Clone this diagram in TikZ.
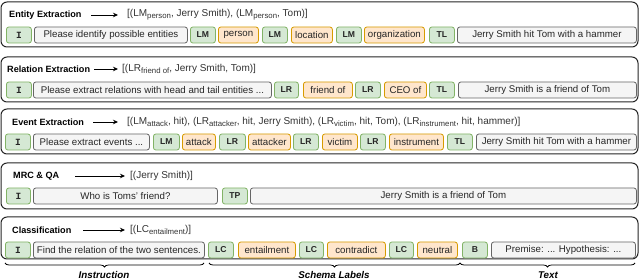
\documentclass[tikz,border=0pt]{standalone}
\usepackage{fontspec}
\setmainfont{Liberation Sans}
\setsansfont{Liberation Sans}
\setmonofont{Liberation Mono}
\usetikzlibrary{decorations.pathreplacing,arrows.meta}
\definecolor{gfill}{HTML}{D5E8D4}
\definecolor{gdraw}{HTML}{82B366}
\definecolor{ofill}{HTML}{FFE6CC}
\definecolor{odraw}{HTML}{D79B00}
\definecolor{tfill}{HTML}{F5F5F5}
\definecolor{tdraw}{HTML}{666666}
\newcommand\sbs[1]{\raisebox{-0.4ex}{\fontsize{7.8}{9}\selectfont #1}}
\begin{document}
\begin{tikzpicture}[x=1pt,y=-1pt,
 panel/.style={draw=black!85, line width=1pt, rounded corners=6pt, fill=white},
 bx/.style={anchor=west, minimum height=16pt, inner sep=0pt, rounded corners=2.5pt, line width=0.8pt, font=\fontsize{9.7}{11}\selectfont, text=black!85},
 gbox/.style={bx, fill=gfill, draw=gdraw, font=\fontsize{8.6}{10}\selectfont\bfseries},
 ibox/.style={gbox, font=\fontsize{9.5}{10}\selectfont\ttfamily\bfseries},
 obox/.style={bx, fill=ofill, draw=odraw},
 tbox/.style={bx, fill=tfill, draw=tdraw},
 ttl/.style={anchor=west, inner sep=0pt, font=\fontsize{9.1}{11}\selectfont\bfseries},
 outp/.style={anchor=west, inner sep=0pt, font=\fontsize{10}{11}\selectfont, text=black!80},
 arr/.style={-{Stealth[length=5pt,width=4.5pt]}, line width=0.8pt},
 brc/.style={decorate, decoration={brace, mirror, amplitude=4pt}, line width=0.8pt},
 blab/.style={inner sep=0pt, font=\fontsize{9.8}{11}\selectfont\bfseries\itshape}
]
\useasboundingbox (0,0) rectangle (640,280);
% panels
\draw[panel] (1,2) rectangle (638,47);
\draw[panel] (1,57) rectangle (638,102);
\draw[panel] (1,109) rectangle (638,154);
\draw[panel] (1,163) rectangle (638,209);
\draw[panel] (1,217) rectangle (638,259);

% ---------- Panel 1 ----------
\node[ttl] (t1) at (9,15) {Entity Extraction};
\node[outp] (o1) at (127,15) {[(LM\sbs{person}, Jerry Smith), (LM\sbs{person}, Tom)]};
\coordinate (a1s) at (91,15); \coordinate (a1e) at (118,15);
\draw[arr] (a1s) -- (a1e);
\node[ibox, minimum width=25pt] (p1i) at (6,35) {I};
\node[tbox, minimum width=153pt] (p1ins) at (34,35) {Please identify possible entities};
\node[gbox, minimum width=25pt] (p1lm1) at (190,35) {LM};
\node[obox, minimum width=40pt] (p1s1) at (218,35) {person};
\node[gbox, minimum width=25pt] (p1lm2) at (262,35) {LM};
\node[obox, minimum width=41pt] (p1s2) at (291,35) {location};
\node[gbox, minimum width=25pt] (p1lm3) at (336,35) {LM};
\node[obox, minimum width=60pt] (p1s3) at (364,35) {organization};
\node[gbox, minimum width=25pt] (p1tl) at (429,35) {TL};
\node[tbox, minimum width=179pt] (p1txt) at (457,35) {Jerry Smith hit Tom with a hammer};

% ---------- Panel 2 ----------
\node[ttl] (t2) at (7,69) {Relation Extraction};
\node[outp] (o2) at (122,69) {[(LR\sbs{friend of}, Jerry Smith, Tom)]};
\coordinate (a2s) at (94,69); \coordinate (a2e) at (118,69);
\draw[arr] (a2s) -- (a2e);
\node[ibox, minimum width=25pt] (p2i) at (6,90) {I};
\node[tbox, minimum width=238pt] (p2ins) at (33,90) {Please extract relations with head and tail entities ...};
\node[gbox, minimum width=24pt] (p2lr1) at (274,90) {LR};
\node[obox, minimum width=49pt] (p2s1) at (303,90) {friend of};
\node[gbox, minimum width=25pt] (p2lr2) at (355,90) {LR};
\node[obox, minimum width=42pt] (p2s2) at (384,90) {CEO of};
\node[gbox, minimum width=25pt] (p2tl) at (429,90) {TL};
\node[tbox, minimum width=178pt] (p2txt) at (458,90) {Jerry Smith is a friend of Tom};

% ---------- Panel 3 ----------
\node[ttl] (t3) at (12,122) {Event Extraction};
\node[outp] (o3) at (127,122) {[(LM\sbs{attack}, hit), (LR\sbs{attacker}, hit, Jerry Smith), (LR\sbs{victim}, hit, Tom), (LR\sbs{instrument}, hit, hammer)]};
\coordinate (a3s) at (93,122); \coordinate (a3e) at (118,122);
\draw[arr] (a3s) -- (a3e);
\node[ibox, minimum width=25pt] (p3i) at (5,142) {I};
\node[tbox, minimum width=116pt] (p3ins) at (33,142) {Please extract events ...};
\node[gbox, minimum width=26pt] (p3lm) at (153,142) {LM};
\node[obox, minimum width=33pt] (p3s1) at (182,142) {attack};
\node[gbox, minimum width=26pt] (p3lr1) at (219,142) {LR};
\node[obox, minimum width=42pt] (p3s2) at (248,142) {attacker};
\node[gbox, minimum width=25pt] (p3lr2) at (293,142) {LR};
\node[obox, minimum width=35pt] (p3s3) at (322,142) {victim};
\node[gbox, minimum width=25pt] (p3lr3) at (360,142) {LR};
\node[obox, minimum width=54pt] (p3s4) at (389,142) {instrument};
\node[gbox, minimum width=25pt] (p3tl) at (447,142) {TL};
\node[tbox, minimum width=160pt] (p3txt) at (476,142) {Jerry Smith hit Tom with a hammer};

% ---------- Panel 4 ----------
\node[ttl] (t4) at (13,176) {MRC \& QA};
\node[outp] (o4) at (130,176) {[(Jerry Smith)]};
\coordinate (a4s) at (75,176); \coordinate (a4e) at (125,176);
\draw[arr] (a4s) -- (a4e);
\node[ibox, minimum width=24pt] (p4i) at (6,196) {I};
\node[tbox, minimum width=184pt] (p4ins) at (33,196) {Who is Toms' friend?};
\node[gbox, minimum width=25pt] (p4tp) at (222,196) {TP};
\node[tbox, minimum width=386pt] (p4txt) at (250,196) {Jerry Smith is a friend of Tom};

% ---------- Panel 5 ----------
\node[ttl] (t5) at (12,230) {Classification};
\node[outp] (o5) at (130,230) {[(LC\sbs{entailment})]};
\coordinate (a5s) at (83,230); \coordinate (a5e) at (125,230);
\draw[arr] (a5s) -- (a5e);
\node[ibox, minimum width=25pt] (p5i) at (5,250) {I};
\node[tbox, minimum width=171pt] (p5ins) at (33,250) {Find the relation of the two sentences.};
\node[gbox, minimum width=25pt] (p5lc1) at (208,250) {LC};
\node[obox, minimum width=57pt] (p5s1) at (238,250) {entailment};
\node[gbox, minimum width=24pt] (p5lc2) at (299,250) {LC};
\node[obox, minimum width=58pt] (p5s2) at (327,250) {contradict};
\node[gbox, minimum width=24pt] (p5lc3) at (389,250) {LC};
\node[obox, minimum width=40pt] (p5s3) at (417,250) {neutral};
\node[gbox, minimum width=25pt] (p5b) at (462,250) {B};
\node[tbox, minimum width=144pt] (p5txt) at (491,250) {Premise: ... Hypothesis: ...};

% ---------- Braces ----------
\coordinate (b1s) at (5,263); \coordinate (b1e) at (204,263);
\coordinate (b2s) at (209,263); \coordinate (b2e) at (460,263);
\coordinate (b3s) at (460,263); \coordinate (b3e) at (635,263);
\draw[brc] (b1s) -- (b1e);
\draw[brc] (b2s) -- (b2e);
\draw[brc] (b3s) -- (b3e);
\node[blab] (l1) at (104,275) {Instruction};
\node[blab] (l2) at (334,275) {Schema Labels};
\node[blab] (l3) at (548,275) {Text};
\end{tikzpicture}
\end{document}
